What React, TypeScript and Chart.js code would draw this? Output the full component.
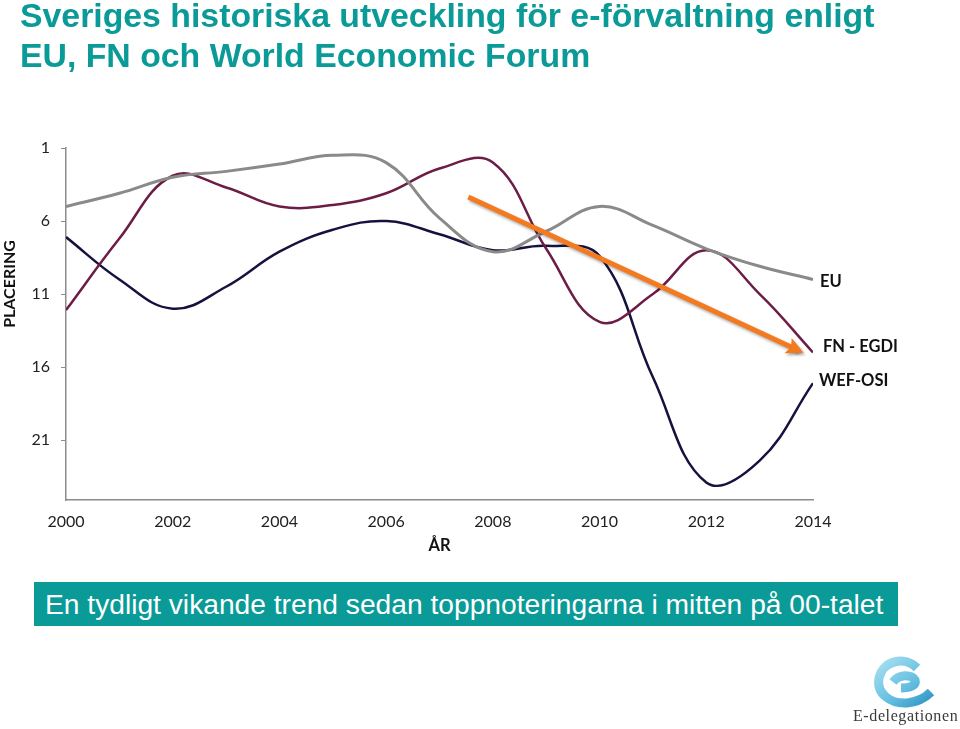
import React, { useEffect, useRef } from "react";
import { Chart, registerables } from "chart.js";

Chart.register(...registerables);

// ---- data ----
const years = [2000, 2001, 2002, 2003, 2004, 2005, 2006, 2007, 2008, 2009, 2010, 2011, 2012, 2013, 2014];
const euRank = [5.0, 4.1, 3.0, 2.6, 2.1, 1.5, 2.0, 5.8, 8.1, 6.7, 5.0, 6.3, 7.9, 9.1, 10.0];
const fnEgdiRank = [12.1, 7.2, 2.9, 3.7, 5.0, 4.9, 4.1, 2.4, 2.0, 7.9, 12.9, 11.0, 8.0, 11.0, 15.0];
const wefOsiRank = [7.1, 10.0, 12.0, 10.5, 8.1, 6.6, 6.0, 6.9, 8.0, 7.7, 8.4, 16.7, 23.9, 22.4, 17.1];
const seriesNames = ["EU", "FN - EGDI", "WEF-OSI"];
const yTickValues = [1, 6, 11, 16, 21];
const xTickYears = [2000, 2002, 2004, 2006, 2008, 2010, 2012, 2014];
const trendYears = [2007.54, 2013.72];
const trendRanks = [4.36, 14.85];
const yAxisTitle = "PLACERING";
const xAxisTitle = "ÅR";
const titleLines = ["Sveriges historiska utveckling för e-förvaltning enligt", "EU, FN och World Economic Forum"];
const bannerText = "En tydligt vikande trend sedan toppnoteringarna i mitten på 00-talet";
const logoText = "E-delegationen";

const TEAL = "#0A9A97";
const seriesColors = ["#8A8A8A", "#6C1D46", "#16123F"];
const labelOffsets = [
  { dx: 7, dy: 2 },
  { dx: 10, dy: -6 },
  { dx: 6, dy: -2 },
];

const overlayPlugin = {
  id: "overlay",
  beforeDatasetDraw(chart: any, args: any) {
    if (args.index === 0) {
      const ctx = chart.ctx;
      ctx.save();
      ctx.shadowColor = "rgba(0,0,0,0.35)";
      ctx.shadowBlur = 3;
      ctx.shadowOffsetX = 1.5;
      ctx.shadowOffsetY = 2;
    }
  },
  afterDatasetDraw(chart: any, args: any) {
    if (args.index === 0) {
      const ctx = chart.ctx;
      const xs = chart.scales.x;
      const ys = chart.scales.y;
      const x0 = xs.getPixelForValue(trendYears[0]);
      const y0 = ys.getPixelForValue(trendRanks[0]);
      const x1 = xs.getPixelForValue(trendYears[1]);
      const y1 = ys.getPixelForValue(trendRanks[1]);
      const len = Math.hypot(x1 - x0, y1 - y0);
      const ux = (x1 - x0) / len;
      const uy = (y1 - y0) / len;
      const nx = -uy;
      const ny = ux;
      const tipX = x1 + ux * 6;
      const tipY = y1 + uy * 6;
      const L = 17;
      const W = 8.5;
      ctx.beginPath();
      ctx.moveTo(tipX, tipY);
      ctx.lineTo(tipX - ux * L + nx * W, tipY - uy * L + ny * W);
      ctx.lineTo(tipX - ux * L * 0.8, tipY - uy * L * 0.8);
      ctx.lineTo(tipX - ux * L - nx * W, tipY - uy * L - ny * W);
      ctx.closePath();
      ctx.fillStyle = "#F47A1F";
      ctx.fill();
      ctx.restore();
    }
  },
  afterDraw(chart: any) {
    const ctx = chart.ctx;
    const xs = chart.scales.x;
    const ys = chart.scales.y;
    ctx.save();
    ctx.fillStyle = "#111";
    ctx.font = "bold 16.5px Lato, 'Open Sans', sans-serif";
    ctx.textAlign = "left";
    ctx.textBaseline = "middle";
    const series = [euRank, fnEgdiRank, wefOsiRank];
    series.forEach((s, i) => {
      const px = xs.getPixelForValue(years[years.length - 1]);
      const py = ys.getPixelForValue(s[s.length - 1]);
      ctx.fillText(seriesNames[i], px + labelOffsets[i].dx, py + labelOffsets[i].dy);
    });
    // axis titles
    ctx.textAlign = "center";
    ctx.font = "bold 16.5px Lato, 'Open Sans', sans-serif";
    ctx.fillText(xAxisTitle, (chart.chartArea.left + chart.chartArea.right) / 2, 546);
    ctx.save();
    ctx.translate(10, 284);
    ctx.rotate(-Math.PI / 2);
    ctx.font = "bold 16px Lato, 'Open Sans', sans-serif";
    ctx.fillText(yAxisTitle, 0, 0);
    ctx.restore();
    ctx.restore();
  },
};

export default function App() {
  const canvasRef = useRef<HTMLCanvasElement | null>(null);

  useEffect(() => {
    document.body.style.margin = "0";
    const canvas = canvasRef.current;
    if (!canvas) return;
    const tickFont = { family: "Lato, 'Open Sans', sans-serif", size: 16 };
    const mk = (arr: number[]) => years.map((y, i) => ({ x: y, y: arr[i] }));
    const chart = new Chart(canvas, {
      type: "line",
      data: {
        datasets: [
          {
            label: "trend",
            data: trendYears.map((y, i) => ({ x: y, y: trendRanks[i] })),
            borderColor: "#F47A1F",
            borderWidth: 5,
            tension: 0,
            pointRadius: 0,
            borderCapStyle: "butt",
          },
          {
            label: seriesNames[0],
            data: mk(euRank),
            borderColor: seriesColors[0],
            borderWidth: 3,
            tension: 0.4,
            pointRadius: 0,
          },
          {
            label: seriesNames[1],
            data: mk(fnEgdiRank),
            borderColor: seriesColors[1],
            borderWidth: 2.5,
            tension: 0.4,
            pointRadius: 0,
          },
          {
            label: seriesNames[2],
            data: mk(wefOsiRank),
            borderColor: seriesColors[2],
            borderWidth: 2.5,
            tension: 0.4,
            pointRadius: 0,
          },
        ],
      },
      options: {
        responsive: false,
        animation: false,
        events: [],
        layout: { padding: { left: 0, right: 147, top: 148, bottom: 189 } },
        plugins: {
          legend: { display: false },
          tooltip: { enabled: false },
          title: { display: false },
        },
        scales: {
          x: {
            type: "linear",
            min: 2000,
            max: 2014,
            afterBuildTicks: (s: any) => {
              s.ticks = xTickYears.map((v) => ({ value: v }));
            },
            afterFit: (s: any) => {
              s.height = 40;
            },
            ticks: {
              callback: (v: any) => String(v),
              font: tickFont,
              color: "#222",
              padding: 12,
              maxRotation: 0,
              autoSkip: false,
            },
            grid: { display: true, drawOnChartArea: false, drawTicks: false },
            border: { display: true, color: "#8C8C8C", width: 1.5 },
          },
          y: {
            type: "linear",
            reverse: true,
            min: 1,
            max: 25.1,
            afterBuildTicks: (s: any) => {
              s.ticks = yTickValues.map((v) => ({ value: v }));
            },
            afterFit: (s: any) => {
              s.width = 66;
            },
            ticks: {
              font: tickFont,
              color: "#222",
              padding: 11,
              autoSkip: false,
            },
            grid: { display: true, drawOnChartArea: false, drawTicks: true, tickLength: 5, color: "#8C8C8C" },
            border: { display: true, color: "#8C8C8C", width: 1.5 },
          },
        },
      },
      plugins: [overlayPlugin],
    } as any);
    return () => chart.destroy();
  }, []);

  return (
    <div style={{ position: "relative", width: 960, height: 729, background: "#fff", overflow: "hidden" }}>
      <canvas ref={canvasRef} width={960} height={729} style={{ position: "absolute", left: 0, top: 0 }} />
      <div
        style={{
          position: "absolute",
          left: 20,
          top: -4.6,
          fontFamily: "'Liberation Sans', Arial, sans-serif",
          fontWeight: "bold",
          fontSize: 33.8,
          lineHeight: "40px",
          color: TEAL,
          whiteSpace: "nowrap",
        }}
      >
        {titleLines[0]}
        <br />
        {titleLines[1]}
      </div>
      <div
        style={{
          position: "absolute",
          left: 34,
          top: 582,
          width: 864,
          height: 44,
          background: TEAL,
          color: "#fff",
          fontFamily: "'Liberation Sans', Arial, sans-serif",
          fontSize: 28.2,
          lineHeight: "44px",
          paddingLeft: 11,
          boxSizing: "border-box",
          whiteSpace: "nowrap",
        }}
      >
        {bannerText}
      </div>
      <svg
        width={80}
        height={60}
        viewBox="0 0 80 60"
        style={{ position: "absolute", left: 865, top: 652 }}
      >
        <defs>
          <linearGradient id="lg" x1="0" y1="0" x2="1" y2="1">
            <stop offset="0" stopColor="#A6DFF1" />
            <stop offset="0.6" stopColor="#62BDE0" />
            <stop offset="1" stopColor="#2F95C4" />
          </linearGradient>
        </defs>
        <path
          d="M 28 30 C 34 22, 46 22, 50 28 C 52 34, 44 36, 36 36 M 52 16 C 40 4, 18 8, 14 26 C 11 42, 26 52, 42 51 C 52 50, 60 46, 66 40"
          fill="none"
          stroke="url(#lg)"
          strokeWidth={9}
          strokeLinecap="butt"
        />
      </svg>
      <div
        style={{
          position: "absolute",
          left: 853,
          top: 706,
          fontFamily: "'Liberation Serif', 'DejaVu Serif', serif",
          fontSize: 16,
          letterSpacing: 0.6,
          lineHeight: "20px",
          color: "#3a3a3a",
          whiteSpace: "nowrap",
        }}
      >
        {logoText}
      </div>
    </div>
  );
}
